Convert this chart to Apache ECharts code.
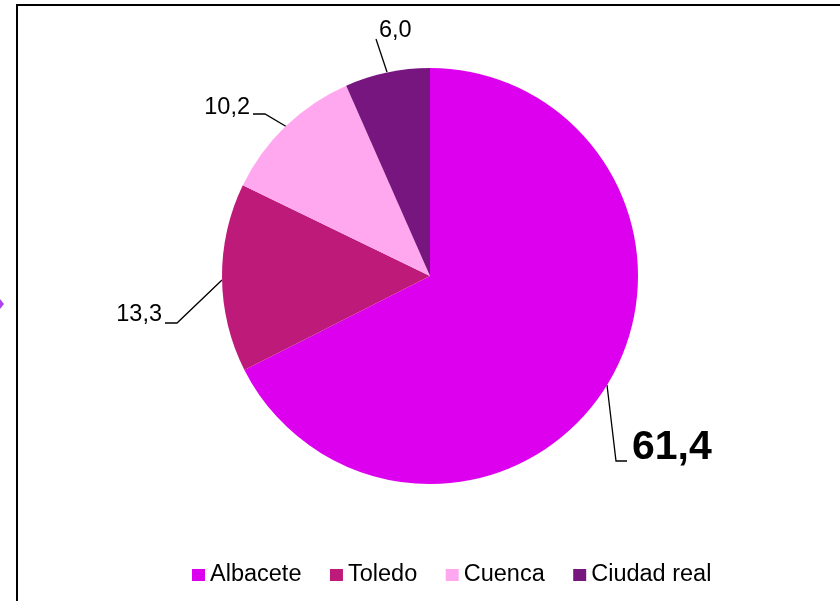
<!DOCTYPE html>
<html>
<head>
<meta charset="utf-8">
<script src="https://cdn.jsdelivr.net/npm/echarts@6/dist/echarts.min.js"></script>
<style>
  html, body { margin: 0; padding: 0; background: #fff; }
  #chart { width: 840px; height: 601px; }
</style>
</head>
<body>
<div id="chart"></div>
<script>
// Provincias y porcentajes
const provincias = ['Albacete', 'Toledo', 'Cuenca', 'Ciudad real'];
const valores = [61.4, 13.3, 10.2, 6.0];
const colores = ['#DD00EE', '#BE1A7A', '#FFA8F0', '#77167F'];

// Texto de cada etiqueta con coma decimal
const fmt = v => v.toFixed(1).replace('.', ',');

// Colocación de las etiquetas y sus líneas guía
const etiquetas = [
  { x: 632, y: 448, align: 'left', line: [[607, 385], [616, 461], [627, 461]] },
  { x: 162, y: 315, align: 'right', line: [[222, 280], [177, 323], [165, 323]] },
  { x: 250, y: 108, align: 'right', line: [[287, 127], [265, 114], [253, 114]] },
  { x: 379, y: 31, align: 'left', line: [[387, 72], [376, 39]] }
];

const chart = echarts.init(document.getElementById('chart'));
chart.setOption({
  animation: false,
  backgroundColor: '#fff',
  color: colores,
  legend: {
    left: 192,
    top: 563,
    padding: 0,
    itemWidth: 13,
    itemHeight: 12,
    itemGap: 28.5,
    icon: 'rect',
    textStyle: { fontFamily: 'Liberation Sans, Arial', fontSize: 23.5, color: '#000' },
    data: provincias
  },
  graphic: [
    { type: 'polyline', shape: { points: [[17, 601], [17, 5], [840, 5]] },
      style: { stroke: '#000', lineWidth: 2, fill: null } },
    { type: 'polygon', shape: { points: [[0, 299], [4, 304], [0, 309]] },
      style: { fill: '#B040F0' } }
  ],
  series: [{
    type: 'pie',
    center: [430, 276],
    radius: 208,
    startAngle: 90,
    clockwise: true,
    data: provincias.map((n, i) => ({
      name: n,
      value: valores[i],
      label: i === 0 ? { fontSize: 41, fontWeight: 'bold' } : {}
    })),
    label: {
      show: true,
      position: 'outside',
      formatter: p => fmt(p.value),
      fontFamily: 'Liberation Sans, Arial',
      fontSize: 23.5,
      color: '#000'
    },
    labelLine: { show: true, lineStyle: { color: '#000', width: 1.3 } },
    labelLayout: p => {
      const e = etiquetas[p.dataIndex];
      return { x: e.x, y: e.y, align: e.align, verticalAlign: 'middle', labelLinePoints: e.line };
    },
    itemStyle: { borderWidth: 0 },
    emphasis: { disabled: true }
  }]
});
</script>
</body>
</html>
